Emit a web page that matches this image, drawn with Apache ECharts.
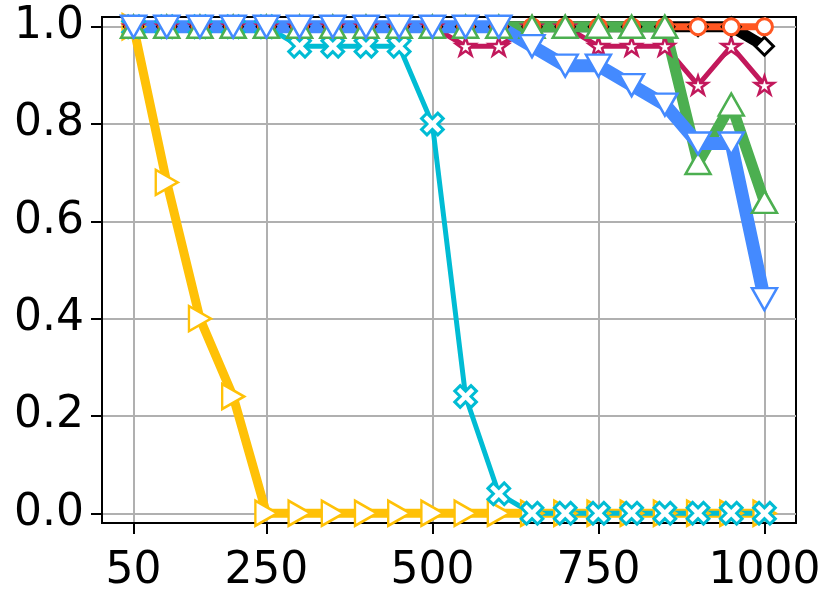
<!DOCTYPE html>
<html>
<head>
<meta charset="utf-8">
<script src="https://cdn.jsdelivr.net/npm/echarts@6/dist/echarts.min.js"></script>
<style>
  html, body { margin: 0; padding: 0; background: #fff; }
  #chart { width: 832px; height: 600px; }
</style>
</head>
<body>
<div id="chart"></div>
<script>
// x positions shared by all series
const xs = [50, 100, 150, 200, 250, 300, 350, 400, 450, 500, 550, 600, 650, 700, 750, 800, 850, 900, 950, 1000]
const xTicks = [50, 250, 500, 750, 1000]
const yTicks = [0, 0.2, 0.4, 0.6, 0.8, 1.0]

const yellowVals = [1.0, 0.68, 0.40, 0.24, 0, 0, 0, 0, 0, 0, 0, 0, 0, 0, 0, 0, 0, 0, 0, 0]
const cyanVals = [1.0, 1.0, 1.0, 1.0, 1.0, 0.96, 0.96, 0.96, 0.96, 0.80, 0.24, 0.04, 0, 0, 0, 0, 0, 0, 0, 0]
const crimsonVals = [1.0, 1.0, 1.0, 1.0, 1.0, 1.0, 1.0, 1.0, 1.0, 1.0, 0.96, 0.96, 1.0, 1.0, 0.96, 0.96, 0.96, 0.88, 0.96, 0.88]
const blackVals = [1.0, 1.0, 1.0, 1.0, 1.0, 1.0, 1.0, 1.0, 1.0, 1.0, 1.0, 1.0, 1.0, 1.0, 1.0, 1.0, 1.0, 1.0, 1.0, 0.96]
const orangeVals = [1.0, 1.0, 1.0, 1.0, 1.0, 1.0, 1.0, 1.0, 1.0, 1.0, 1.0, 1.0, 1.0, 1.0, 1.0, 1.0, 1.0, 1.0, 1.0, 1.0]
const greenVals = [1.0, 1.0, 1.0, 1.0, 1.0, 1.0, 1.0, 1.0, 1.0, 1.0, 1.0, 1.0, 1.0, 1.0, 1.0, 1.0, 1.0, 0.72, 0.84, 0.64]
const blueVals = [1.0, 1.0, 1.0, 1.0, 1.0, 1.0, 1.0, 1.0, 1.0, 1.0, 1.0, 1.0, 0.96, 0.92, 0.92, 0.88, 0.84, 0.76, 0.76, 0.44]

const STAR = 'path://M0,-100 L22.45,-30.9 L95.1,-30.9 L36.3,11.8 L58.8,80.9 L0,38.2 L-58.8,80.9 L-36.3,11.8 L-95.1,-30.9 L-22.45,-30.9 Z'
const PLUS = 'path://M-12,-36 L12,-36 L12,-12 L36,-12 L36,12 L12,12 L12,36 L-12,36 L-12,12 L-36,12 L-36,-12 L-12,-12 Z'

const font = 'DejaVu Sans'

function pairs(vals) {
  return xs.map((x, i) => [x, vals[i]])
}

function makeLine(name, vals, color, width, symbol, size, rotate, border) {
  return {
    name,
    type: 'line',
    data: pairs(vals),
    showSymbol: true,
    showAllSymbol: true,
    symbol,
    symbolSize: size,
    symbolRotate: rotate || 0,
    lineStyle: { color, width },
    itemStyle: { color: '#fff', borderColor: color, borderWidth: border || 2.5 },
    emphasis: { disabled: true },
    animation: false,
  }
}

const chart = echarts.init(document.getElementById('chart'))
chart.setOption({
  animation: false,
  grid: {
    left: 102, right: 36, top: 17, bottom: 77,
    show: true, borderColor: '#000', borderWidth: 2, backgroundColor: '#fff',
  },
  xAxis: {
    type: 'value',
    min: 2.5,
    max: 1047.5,
    axisLine: { onZero: false, lineStyle: { color: '#000', width: 2 } },
    axisTick: { show: true, inside: false, length: 11, customValues: xTicks, lineStyle: { color: '#000', width: 2 } },
    axisLabel: {
      customValues: xTicks, margin: 27, color: '#000', fontSize: 44, fontFamily: font,
      formatter: v => String(v),
    },
    splitLine: { show: true, lineStyle: { color: '#b0b0b0', width: 2 } },
  },
  yAxis: {
    type: 'value',
    min: -0.02,
    max: 1.02,
    axisLine: { show: true, onZero: false, lineStyle: { color: '#000', width: 2 } },
    axisTick: { show: true, inside: false, length: 11, customValues: yTicks, lineStyle: { color: '#000', width: 2 } },
    axisLabel: {
      customValues: yTicks, margin: 18, color: '#000', fontSize: 44, fontFamily: font,
      formatter: v => v.toFixed(1),
    },
    splitLine: { show: true, lineStyle: { color: '#b0b0b0', width: 2 } },
  },
  series: [
    makeLine('yellow', yellowVals, '#FFC107', 9, 'triangle', [25, 22], -90),
    makeLine('cyan', cyanVals, '#00BCD4', 5, PLUS, [23, 23], 45, 3),
    makeLine('crimson', crimsonVals, '#C2185B', 5, STAR, [19, 18]),
    makeLine('black', blackVals, '#000000', 11, 'diamond', [18, 18], 0, 3),
    makeLine('orange', orangeVals, '#FF5722', 7, 'circle', 16, 0, 3),
    makeLine('green', greenVals, '#4CAF50', 11, 'triangle', [25, 22]),
    makeLine('blue', blueVals, '#448AFF', 13, 'triangle', [25, 22], 180),
  ],
})
</script>
</body>
</html>
